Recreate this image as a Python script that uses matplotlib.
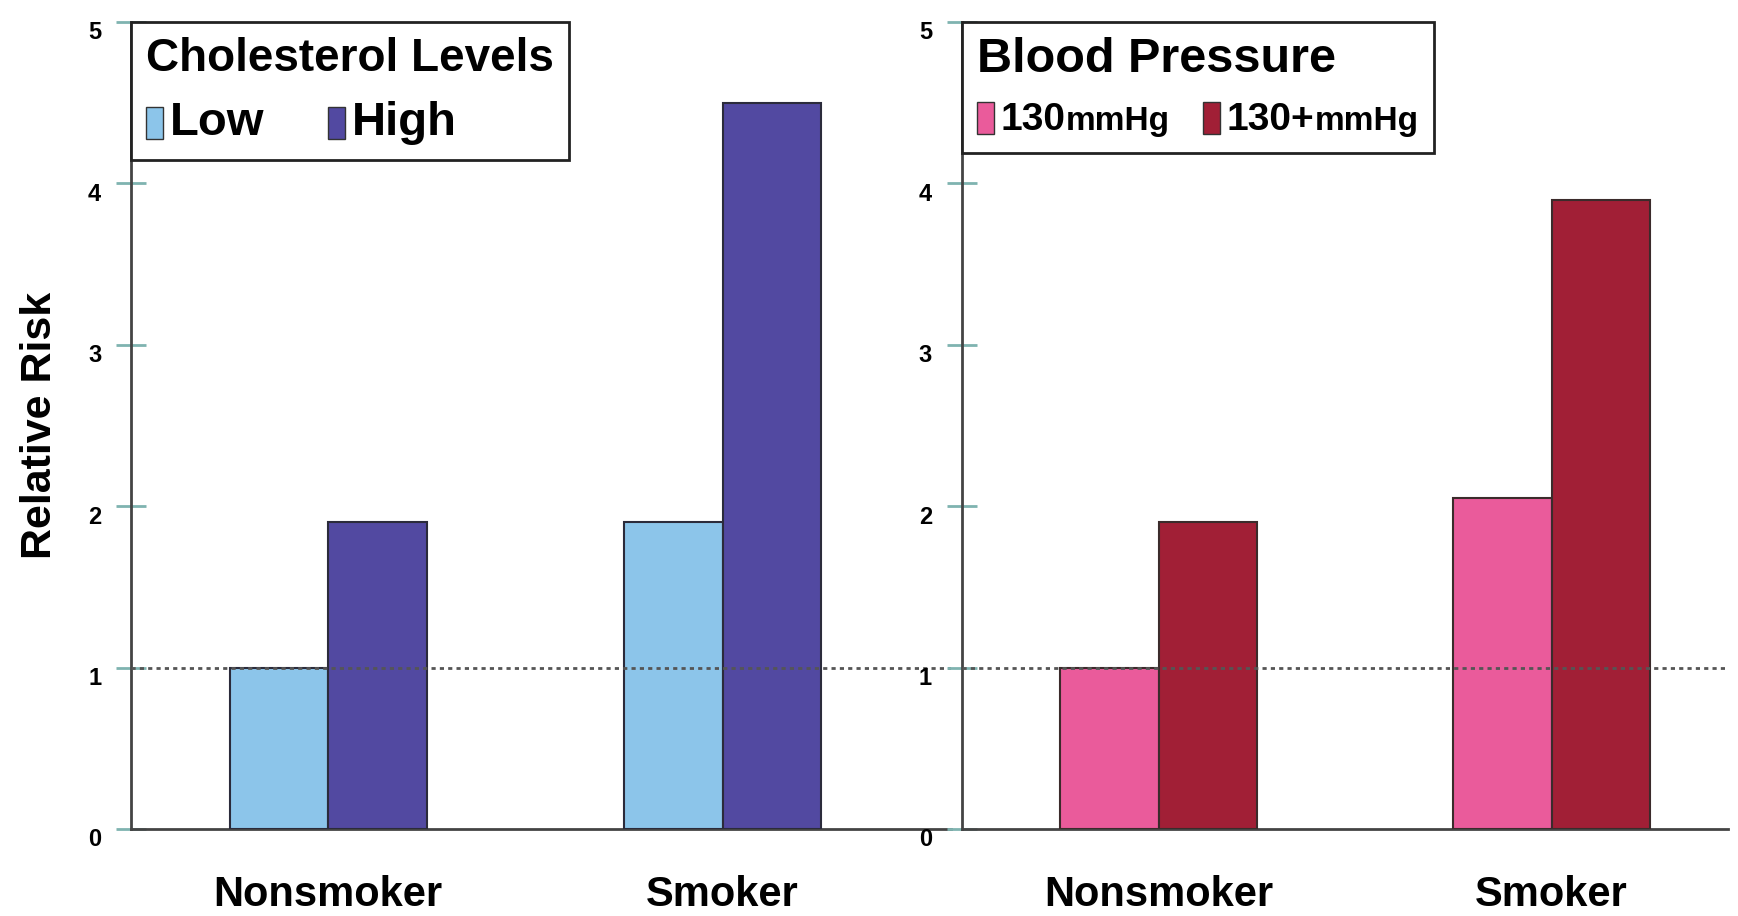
import matplotlib
matplotlib.use("Agg")
import matplotlib.pyplot as plt
from matplotlib.patches import Rectangle
from matplotlib.offsetbox import (AnchoredOffsetbox, DrawingArea, HPacker,
                                  TextArea, VPacker)
from matplotlib.transforms import ScaledTranslation

plt.rcParams['font.family'] = ['Liberation Sans', 'DejaVu Sans']

# data
groups = ["Nonsmoker", "Smoker"]

chol_labels = ["Low", "High"]
chol_low = [1.0, 1.9]
chol_high = [1.9, 4.5]

bp_labels = ["130", "130+"]
bp_unit = "mmHg"
bp_normal = [1.0, 2.05]
bp_high = [1.9, 3.9]

yticks = [0, 1, 2, 3, 4, 5]

chol_colors = ["#8cc5ea", "#5249a1"]
bp_colors = ["#ea5b9b", "#a11f36"]


def make_legend(ax, title, labels, colors, fs_title, fs_entry, colsep,
                unit=None):
    rows = []
    for lab, col in zip(labels, colors):
        da = DrawingArea(12, 23, 0, 3)
        da.add_artist(Rectangle((0, -3), 12, 23, facecolor=col,
                                edgecolor="#333333", lw=1))
        items = [da, TextArea(lab, textprops=dict(fontsize=fs_entry,
                                                  fontweight="bold"))]
        row = HPacker(children=items, align="baseline", pad=0, sep=5)
        if unit:
            sub = TextArea(unit, textprops=dict(fontsize=24, fontweight="bold"))
            row = HPacker(children=[row, sub], align="baseline", pad=0, sep=0)
        rows.append(row)
    entries = HPacker(children=rows, align="baseline", pad=0, sep=colsep)
    box = VPacker(children=[TextArea(title, textprops=dict(fontsize=fs_title,
                                                            fontweight="bold")),
                            entries],
                  align="left", pad=0, sep=14)
    anch = AnchoredOffsetbox(loc="upper left", child=box, pad=0.55,
                             borderpad=0, frameon=True,
                             bbox_to_anchor=(0, 1.0),
                             bbox_transform=ax.transAxes, prop=dict(size=20))
    anch.patch.set_boxstyle("square", pad=0)
    anch.patch.set_edgecolor("#222222")
    anch.patch.set_linewidth(2)
    anch.zorder = 5
    ax.add_artist(anch)


def style_axes(ax, xmax):
    ax.set_xlim(-0.5, xmax)
    ax.set_ylim(0, 5)
    ax.set_yticks(yticks)
    ax.set_xticks(range(len(groups)))
    ax.set_xticklabels(groups, fontsize=30, fontweight="bold")
    ax.tick_params(axis="x", length=0, pad=33)
    ax.tick_params(axis="y", direction="inout", length=21, width=2,
                   color="#7fb3b0", labelsize=17, pad=11)
    for lab in ax.get_yticklabels():
        lab.set_fontweight("bold")
        lab.set_transform(lab.get_transform() +
                          ScaledTranslation(0, -6 / 72, ax.figure.dpi_scale_trans))
    for s in ["top", "right"]:
        ax.spines[s].set_visible(False)
    for s in ["left", "bottom"]:
        ax.spines[s].set_color("#444444")
        ax.spines[s].set_linewidth(2)
    ax.axhline(1, color="#555555", lw=2, linestyle=(0, (1.5, 1.5)), zorder=4)


fig = plt.figure(figsize=(17.38, 9.16), dpi=100)
ax1 = fig.add_axes([0.0754, 0.095, 0.472, 0.881])
ax2 = fig.add_axes([0.5535, 0.095, 0.441, 0.881])

w = 0.25
x = list(range(len(groups)))

ax1.bar([i - w / 2 for i in x], chol_low, w, color=chol_colors[0],
        edgecolor="#2b2b3b", lw=1.5, zorder=3)
ax1.bar([i + w / 2 for i in x], chol_high, w, color=chol_colors[1],
        edgecolor="#2b2b3b", lw=1.5, zorder=3)
ax2.bar([i - w / 2 for i in x], bp_normal, w, color=bp_colors[0],
        edgecolor="#3b2b2b", lw=1.5, zorder=3)
ax2.bar([i + w / 2 for i in x], bp_high, w, color=bp_colors[1],
        edgecolor="#3b2b2b", lw=1.5, zorder=3)

style_axes(ax1, 1.58)
style_axes(ax2, 1.45)

ax1.set_ylabel("Relative Risk", fontsize=31, fontweight="bold", labelpad=20)

make_legend(ax1, "Cholesterol Levels", chol_labels, chol_colors, 33, 34, 46)
make_legend(ax2, "Blood Pressure", bp_labels, bp_colors, 35, 28, 24,
            unit=bp_unit)

fig.savefig("out.png", dpi=100)
